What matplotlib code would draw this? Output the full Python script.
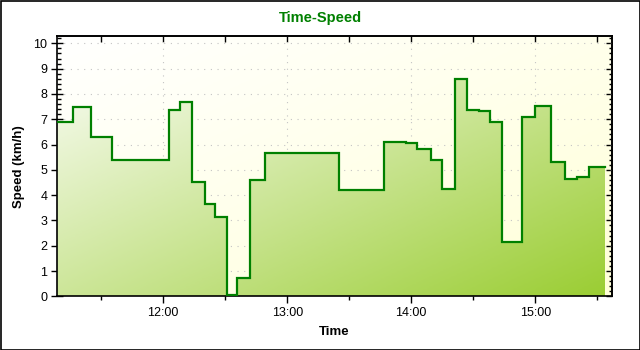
import matplotlib
matplotlib.use('Agg')
import matplotlib.pyplot as plt
import matplotlib.dates as mdates
from matplotlib.patches import Polygon, Rectangle
from matplotlib.colors import LinearSegmentedColormap
from matplotlib.ticker import MultipleLocator
import numpy as np
from datetime import datetime

plt.rcParams['font.family'] = ['Liberation Sans', 'DejaVu Sans']

# step start times and speeds (km/h); last entry marks the end of the last step
times = ["11:08:36", "11:16:18", "11:25:00", "11:35:00", "12:02:48", "12:08:12",
         "12:13:42", "12:20:00", "12:25:00", "12:30:42", "12:35:48", "12:42:00",
         "12:49:06", "13:24:54", "13:46:36", "13:57:24", "14:02:48", "14:09:24",
         "14:14:54", "14:21:12", "14:27:00", "14:32:54", "14:37:54", "14:43:54",
         "14:53:36", "14:59:42", "15:07:30", "15:14:24", "15:20:18", "15:26:00",
         "15:33:42"]
speeds = [6.90, 7.48, 6.31, 5.40, 7.36, 7.69, 4.53, 3.64, 3.13, 0.05, 0.74,
          4.60, 5.66, 4.21, 6.10, 6.06, 5.83, 5.40, 4.24, 8.59, 7.36, 7.34,
          6.89, 2.16, 7.09, 7.52, 5.31, 4.64, 4.70, 5.12, 5.12]

x_start, x_end = "11:08:36", "15:37:18"
y_max = 10.29

def tnum(s):
    h, m, sec = map(int, s.split(":"))
    return mdates.date2num(datetime(2000, 1, 1, h, m, sec))

x = np.array([tnum(t) for t in times])
y = np.array(speeds)
x0, x1 = tnum(x_start), tnum(x_end)

fig = plt.figure(figsize=(6.4, 3.5), dpi=100)
fig.patch.set_facecolor('white')
ax = fig.add_axes([57/640, 1-296.3/350, (612.3-57)/640, (296.3-36)/350])
ax.set_xlim(x0, x1)
ax.set_ylim(0, y_max)

# background gradient
gu, gv = np.meshgrid(np.linspace(0, 1, 300), np.linspace(1, 0, 200))
tb = (gu + (1 - gv)) / 2
bg_cmap = LinearSegmentedColormap.from_list('bg', ['#FFFFFF', '#FFFFD8'])
ax.imshow(tb, cmap=bg_cmap, extent=[x0, x1, 0, y_max], aspect='auto',
          origin='upper', zorder=0, interpolation='bilinear')

# grid
ax.grid(True, which='major', color='#C4C4C4', linestyle=(0, (1, 5)), linewidth=0.8)
ax.set_axisbelow(True)

# fill gradient clipped to step area
vx = [x[0]]
vy = [0]
for i in range(len(x) - 1):
    vx += [x[i], x[i+1]]
    vy += [y[i], y[i]]
vx += [x[-1]]
vy += [0]
poly = Polygon(np.column_stack([vx, vy]), closed=True, facecolor='none',
               edgecolor='none', transform=ax.transData)
ax.add_patch(poly)
fill_cmap = LinearSegmentedColormap.from_list('fill', ['#FFFFFF', '#9ACD32'])
tf = (gu + (1 - gv)) / 2
im = ax.imshow(tf, cmap=fill_cmap, extent=[x0, x1, 0, y_max], aspect='auto',
               origin='upper', zorder=1.5, interpolation='bilinear', vmin=0, vmax=1)
im.set_clip_path(poly)

ax.plot(x, y, drawstyle='steps-post', color='#008000', linewidth=1.6, zorder=3,
        solid_joinstyle='miter')
ax.set_xlim(x0, x1)
ax.set_ylim(0, y_max)

# ticks
ax.xaxis.set_major_locator(mdates.HourLocator())
ax.xaxis.set_minor_locator(mdates.MinuteLocator(byminute=[30]))
ax.xaxis.set_major_formatter(mdates.DateFormatter('%H:%M'))
ax.yaxis.set_major_locator(MultipleLocator(1))
ax.yaxis.set_minor_locator(MultipleLocator(0.2))
ax.tick_params(axis='x', which='major', direction='inout', length=10, width=1,
               labelsize=9, pad=3)
ax.tick_params(axis='x', which='minor', direction='out', length=3, width=1)
ax.tick_params(axis='y', which='major', direction='inout', length=8, width=1,
               labelsize=9, pad=3)
ax.tick_params(axis='y', which='minor', direction='in', length=3, width=1)

top = ax.secondary_xaxis('top')
top.xaxis.set_major_locator(mdates.HourLocator())
top.xaxis.set_minor_locator(mdates.MinuteLocator(byminute=[30]))
top.tick_params(which='both', direction='in', length=4, width=1, labeltop=False)
right = ax.secondary_yaxis('right')
right.yaxis.set_major_locator(MultipleLocator(1))
right.yaxis.set_minor_locator(MultipleLocator(0.2))
right.tick_params(which='major', direction='in', length=4, width=1, labelright=False)
right.tick_params(which='minor', direction='in', length=2, width=1)

for s in ax.spines.values():
    s.set_linewidth(1.2)
for s in top.spines.values():
    s.set_linewidth(1.2)
for s in right.spines.values():
    s.set_linewidth(1.2)

ax.set_xlabel('Time', fontsize=9.5, fontweight='bold', labelpad=5)
ax.set_ylabel('Speed (km/h)', fontsize=9.5, fontweight='bold', labelpad=6)
fig.text(0.5, 1 - 18/350, 'Time-Speed', ha='center', va='center',
         fontsize=10.5, fontweight='bold', color='#008000')

fig.patches.append(Rectangle((0.5/640, 0.5/350), 1 - 1/640, 1 - 1/350,
                             transform=fig.transFigure, fill=False,
                             edgecolor='black', linewidth=1.2))

fig.savefig('out.png', dpi=100)
